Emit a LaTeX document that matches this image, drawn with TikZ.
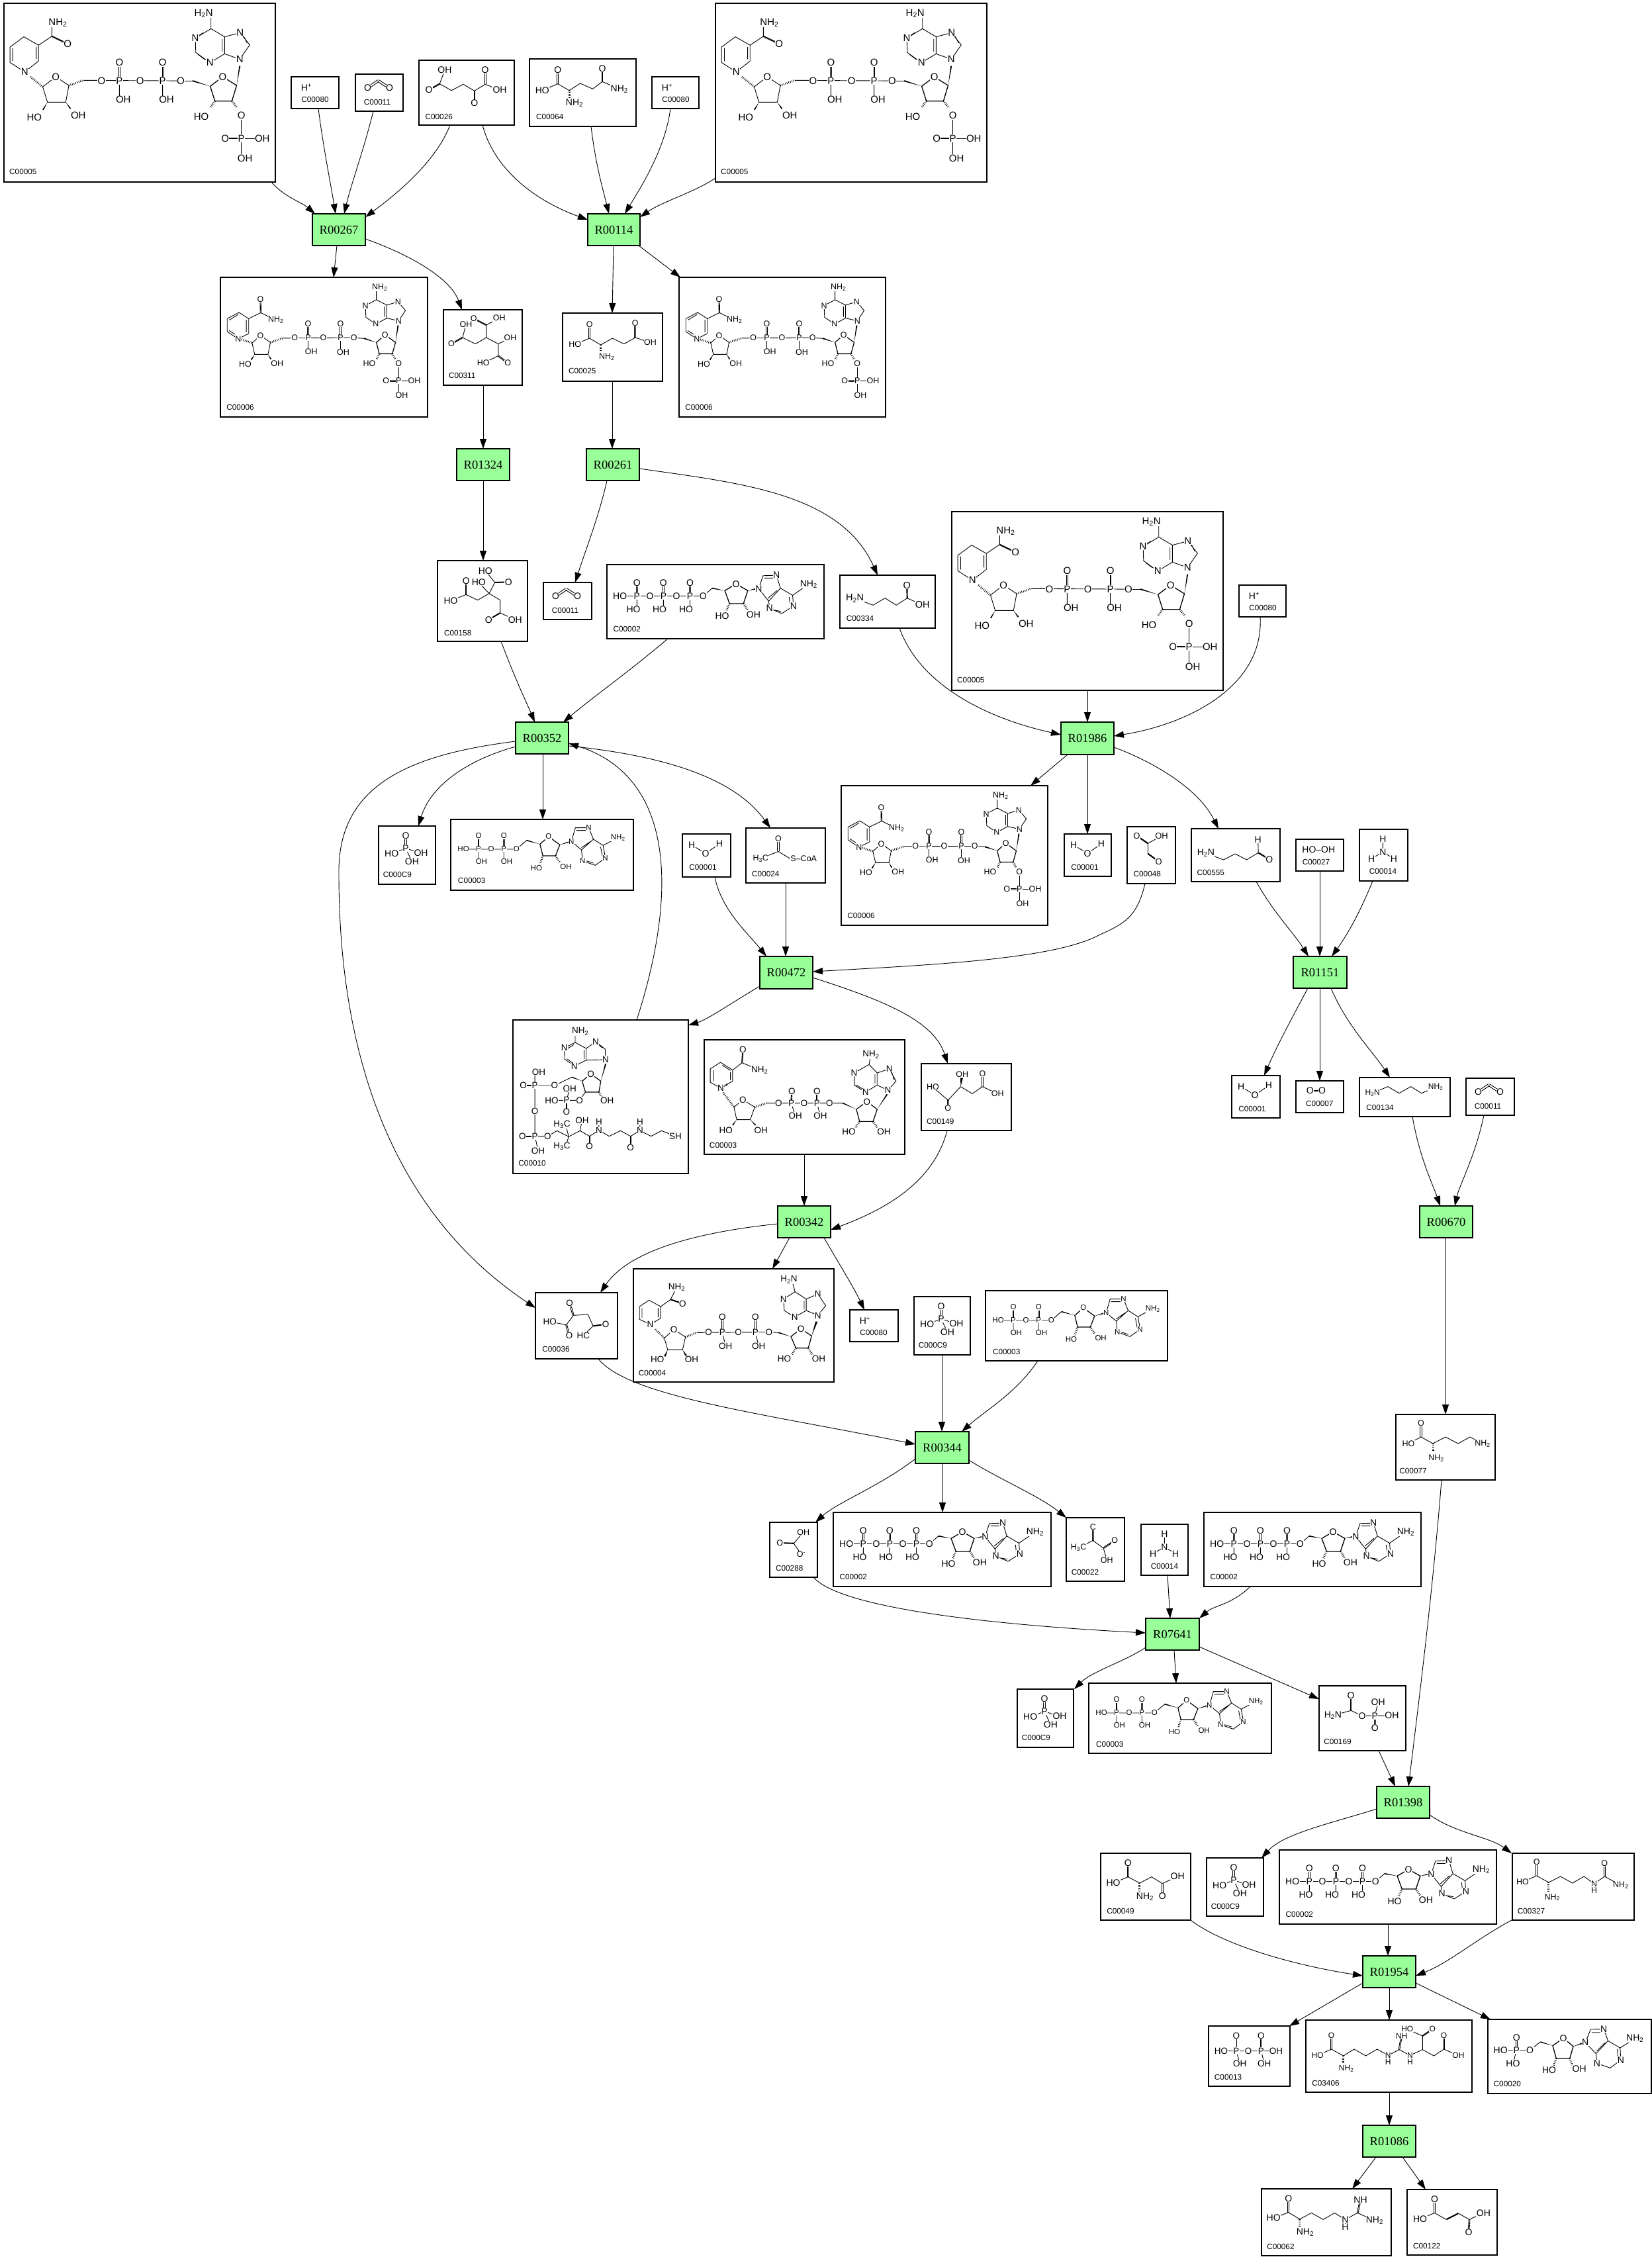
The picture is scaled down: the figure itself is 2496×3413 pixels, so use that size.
\documentclass[tikz,border=0pt]{standalone}
\usepackage{fontspec}
\setmainfont{Liberation Sans}
\newfontfamily\rxfont{Liberation Serif}
\usetikzlibrary{calc,arrows.meta}
\newcount\atomno
\def\molfs{14}
\tikzset{
 cbox/.style={draw=black,fill=white,line width=1.25pt,inner sep=0pt,outer sep=0pt},
 rbox/.style={draw=black,fill=rxgreen,line width=1.25pt,inner sep=0pt,outer sep=0pt,font=\rxfont\fontsize{18.5}{18.5}\selectfont},
 bond/.style={line width=0.9pt,draw=black},
 hash/.style={line width=3pt,draw=black,dash pattern=on 0.8pt off 1.8pt},
 atom/.style={fill=white,inner sep=0.5pt,outer sep=0pt,font=\fontsize{\molfs}{\molfs}\selectfont},
 lab/.style={inner sep=0pt,outer sep=0pt,font=\fontsize{11.8}{12}\selectfont},
 edge/.style={line width=0.9pt,draw=black,-{Triangle[length=15pt,width=10pt]}},
 zm/.style n args={4}{shift={(#1,#2)},xscale=1/#3,yscale=1/#4}
}
\definecolor{rxgreen}{RGB}{153,255,153}
\newcommand\Cp[5]{\pgfmathsetmacro\bxw{#4-#2}\pgfmathsetmacro\bxh{#5-#3}\pgfmathsetmacro\bxx{(#2+#4)/2}\pgfmathsetmacro\bxy{(#3+#5)/2}\node[cbox,minimum width=\bxw pt,minimum height=\bxh pt] (#1) at (\bxx,\bxy) {};}
\newcommand\Rx[6]{\pgfmathsetmacro\bxw{#4-#2}\pgfmathsetmacro\bxh{#5-#3}\pgfmathsetmacro\bxx{(#2+#4)/2}\pgfmathsetmacro\bxy{(#3+#5)/2}\node[rbox,minimum width=\bxw pt,minimum height=\bxh pt] (#1) at (\bxx,\bxy) {#6};}
\def\A(#1)#2{\global\advance\atomno 1 \node[atom] (at\the\atomno) at (#1) {#2};}
\def\Lb(#1)#2{\global\advance\atomno 1 \node[lab] (at\the\atomno) at (#1) {#2};}
\def\Db(#1)(#2){\draw[bond] ($(#1)!1.6pt!90:(#2)$)--($(#2)!1.6pt!-90:(#1)$) ($(#1)!1.6pt!-90:(#2)$)--($(#2)!1.6pt!90:(#1)$);}
\def\Hs(#1)(#2){\draw[hash] (#1)--(#2);}
\def\Wg(#1)(#2){\fill[black] (#1)--($(#2)!2.6pt!90:(#1)$)--($(#2)!2.6pt!-90:(#1)$)--cycle;}
\def\Nn{NH\textsubscript{2}}
\def\Hn{H\textsubscript{2}N}
% C00005
\newcommand\mNADPH[2]{\begin{scope}[shift={(#1,#2)},xscale=1/2.529,yscale=1/2.45,shift={(-449,-33)}]\def\molfs{15}
\draw[bond] (525,157)--(581,188)--(581,247)--(528,287)--(472,252)--(472,195)--cycle;
\draw[bond] (483,200)--(483,247) (572,195)--(572,240) (581,188)--(632,155)--(632,105) (697,337)--(647,305)--(597,342)--(615,399)--(685,399)--cycle;
\Db(632,155)(692,183)
\Hs(550,305)(597,342) \Hs(697,337)(752,318)
\draw[bond] (752,318)--(1124,320) (890,320)--(890,385) (1055,320)--(1055,385);
\Db(890,320)(890,253) \Db(1055,320)(1055,253)
\draw[bond] (1124,320)--(1170,320);
\Wg(1237,340)(1170,320)
\draw[line width=1.3pt] (1237,340)--(1255,395)--(1320,395)--(1338,337)--(1285,305)--cycle;
\Wg(1338,337)(1350,265)
\draw[bond] (1240,127)--(1180,162)--(1182,215)--(1236,253)--(1292,220)--(1292,157)--cycle (1292,157)--(1351,142)--(1388,187)--(1350,240)--(1292,220) (1240,127)--(1240,70);
\draw[bond] (1283,165)--(1283,212) (1210,142)--(1190,155) (1190,222)--(1215,240) (1365,155)--(1378,180);
\Wg(615,399)(598,427) \Wg(685,399)(703,423)
\Hs(1255,395)(1238,417) \Hs(1320,395)(1338,417)
\draw[bond] (1356,449)--(1356,607) (1356,533)--(1436,533);
\Db(1294,533)(1356,533)
\A(528,287){N}\A(655,105){\Nn}\A(692,183){O}\A(647,305){O}\A(822,320){O}\A(890,320){P}\A(969,320){O}\A(1055,320){P}\A(1124,320){O}
\A(890,253){O}\A(1055,253){O}\A(905,390){OH}\A(1070,390){OH}\A(1285,305){O}\A(1212,70){\Hn}\A(1180,162){N}\A(1236,253){N}\A(1351,142){N}\A(1350,240){N}
\A(565,455){HO}\A(733,448){OH}\A(1203,452){HO}\A(1356,449){O}\A(1356,533){P}\A(1294,533){O}\A(1436,533){OH}\A(1370,607){OH}
\Lb(522,656){C00005}
\end{scope}}
% C00006
\newcommand\mNADPp[2]{\begin{scope}[shift={(#1,#2)},xscale=1/2.529,yscale=1/2.45,shift={(-29,-1047)}]\def\molfs{12.5}
\draw[bond] (100,1177)--(137,1200)--(137,1255)--(97,1275)--(55,1248)--(55,1200)--cycle (63,1205)--(97,1185) (128,1205)--(128,1250) (62,1244)--(85,1258);
\draw[bond] (137,1200)--(183,1178)--(241,1205);
\Db(183,1178)(182,1129)
\Hs(110,1277)(150,1290) \Hs(220,1288)(268,1272)
\draw[bond] (150,1290)--(182,1262)--(220,1288)--(211,1332)--(160,1332)--cycle;
\draw[bond] (268,1272)--(539,1271) (364,1271)--(364,1322) (488,1271)--(488,1324);
\Db(364,1271)(364,1219) \Db(488,1271)(488,1219)
\draw[bond] (539,1271)--(578,1273);
\Wg(625,1288)(578,1273)
\draw[line width=1.2pt] (625,1288)--(636,1330)--(686,1330)--(698,1288)--(658,1260)--cycle;
\Wg(698,1288)(708,1225)
\draw[bond] (625,1130)--(583,1152)--(585,1195)--(623,1220)--(665,1198)--(665,1150)--cycle (665,1150)--(708,1137)--(736,1170)--(710,1208)--(665,1198) (625,1130)--(625,1090) (657,1155)--(657,1193);
\Wg(160,1332)(147,1352) \Wg(211,1332)(222,1350)
\Hs(636,1330)(625,1352) \Hs(686,1330)(698,1352)
\draw[bond] (710,1367)--(710,1483) (710,1430)--(770,1430);
\Db(662,1430)(710,1430)
\A(97,1275){N}\A(182,1129){O}\A(241,1205){\Nn}\A(182,1262){O}\A(313,1271){O}\A(364,1271){P}\A(422,1271){O}\A(488,1271){P}\A(539,1271){O}
\A(364,1219){O}\A(488,1219){O}\A(376,1322){OH}\A(498,1324){OH}\A(658,1260){O}\A(638,1085){\Nn}\A(583,1152){N}\A(623,1220){N}\A(708,1137){N}\A(710,1208){N}
\A(124,1368){HO}\A(246,1366){OH}\A(598,1366){HO}\A(710,1367){O}\A(710,1430){P}\A(662,1430){O}\A(770,1430){OH}\A(722,1483){OH}
\Lb(105,1528){C00006}
\end{scope}}
% C00002
\newcommand\mATP[2]{\begin{scope}[shift={(#1,#2)},xscale=1/1.522,yscale=1/2.8,shift={(-166,-435)}]\def\molfs{14}
\draw[bond] (196,568)--(387,568)--(408,535) (235,568)--(235,625) (296,568)--(296,625) (357,568)--(357,625);
\Db(235,568)(235,513)\Db(296,568)(296,513)\Db(357,568)(357,513)
\Wg(437,545)(408,535)
\draw[line width=1.3pt] (437,545)--(448,600)--(480,600)--(490,545)--(463,517)--cycle;
\Wg(490,545)(510,537)
\draw[bond] (515,537)--(525,482)--(556,480)--(565,535)--(538,590)--cycle (565,535)--(593,565)--(595,610)--(568,642)--(540,620)--(538,590) (593,565)--(630,518) (528,492)--(548,492) (557,545)--(536,578) (585,572)--(587,605) (552,628)--(566,633);
\Hs(448,600)(440,632) \Hs(480,600)(490,628)
\A(196,568){HO}\A(235,568){P}\A(265,568){O}\A(296,568){P}\A(326,568){O}\A(357,568){P}\A(387,568){O}\A(235,513){O}\A(296,513){O}\A(357,513){O}\A(227,625){HO}\A(287,625){HO}\A(348,625){HO}
\A(463,517){O}\A(515,537){N}\A(556,480){N}\A(595,610){N}\A(540,620){N}\A(630,518){\Nn}\A(431,652){HO}\A(503,648){OH}
\Lb(212,708){C00002}
\end{scope}}
% C00003 as ADP
\newcommand\mADP[2]{\begin{scope}[shift={(#1,#2)},xscale=1/1.832,yscale=1/3,shift={(-10,-190)}]\def\molfs{11.5}
\draw[bond] (45,325)--(192,325)--(220,285) (87,325)--(87,380) (157,325)--(157,380);
\Db(87,325)(87,265)\Db(157,325)(157,265)
\Wg(257,302)(220,285)
\draw[line width=1.2pt] (257,302)--(265,355)--(300,355)--(312,305)--(281,268)--cycle;
\Wg(312,305)(338,292)
\draw[bond] (344,290)--(355,228)--(392,228)--(405,280)--(372,328)--cycle (405,280)--(432,308)--(438,365)--(410,398)--(375,378)--(372,328) (432,308)--(473,272) (358,240)--(385,240) (397,290)--(372,318) (425,315)--(430,358) (386,378)--(405,388);
\Hs(265,355)(257,392) \Hs(300,355)(312,385)
\A(45,325){HO}\A(87,325){P}\A(122,325){O}\A(157,325){P}\A(192,325){O}\A(87,265){O}\A(157,265){O}\A(95,380){OH}\A(165,380){OH}
\A(281,268){O}\A(344,290){N}\A(392,228){N}\A(438,365){N}\A(375,378){N}\A(473,272){\Nn}\A(247,412){HO}\A(329,404){OH}
\Lb(68,468){C00003}
\end{scope}}
\newcommand\mCOO[2]{\begin{scope}[shift={(#1,#2)}]\def\molfs{14}
\Db(18.5,21)(34.5,10)\Db(34.5,10)(51.5,21)
\A(18.5,21){O}\A(51.5,21){O}\Lb(33,42){C00011}\end{scope}}
\newcommand\mHp[2]{\begin{scope}[shift={(#1,#2)}]\def\molfs{14}
\A(23,16){H\textsuperscript{+}}\Lb(36,34){C00080}\end{scope}}
\newcommand\mWat[2]{\begin{scope}[shift={(#1,#2)}]\def\molfs{14}
\draw[bond] (14.2,16.7)--(35,29.4)--(55.9,15);
\A(14.2,16.7){H}\A(35,29.4){O}\A(55.9,15){H}\Lb(31,50){C00001}\end{scope}}
\newcommand\mNH[2]{\begin{scope}[shift={(#1,#2)}]\def\molfs{14}
\draw[bond] (35.4,15)--(35.4,34.3)--(18.2,44.3) (35.4,34.3)--(52,44.3);
\A(35.4,15){H}\A(35.4,34.3){N}\A(18.2,44.3){H}\A(52,44.3){H}\Lb(35.4,63){C00014}\end{scope}}
\newcommand\mPi[2]{\begin{scope}[shift={(#1,#2)}]\def\molfs{14}
\Db(41,33.7)(41,14.3)
\draw[bond] (41,33.7)--(19.7,41.7) (41,33.7)--(64,41) (41,33.7)--(50.4,53.7);
\A(41,14.3){O}\A(41,33.7){P}\A(19.7,41.7){HO}\A(64,41){OH}\A(50.4,53.7){OH}\Lb(28.4,73.7){C000C9}\end{scope}}
\begin{document}
\begin{tikzpicture}[x=1pt,y=-1pt]
\useasboundingbox (0,0) rectangle (2496,3413);
\fill[white] (0,0) rectangle (2496,3413);
% reactions
\Rx{r267}{472}{323}{552}{371}{R00267}
\Rx{r114}{888}{323}{967}{371}{R00114}
\Rx{r1324}{690}{678}{770}{726}{R01324}
\Rx{r261}{886}{678}{966}{726}{R00261}
\Rx{r352}{779}{1091}{859}{1139}{R00352}
\Rx{r1986}{1603}{1091}{1683}{1140}{R01986}
\Rx{r472}{1148}{1445}{1228}{1494}{R00472}
\Rx{r1151}{1954}{1445}{2035}{1493}{R01151}
\Rx{r342}{1175}{1822}{1255}{1870}{R00342}
\Rx{r670}{2145}{1822}{2225}{1870}{R00670}
\Rx{r344}{1383}{2163}{1464}{2211}{R00344}
\Rx{r7641}{1731}{2445}{1812}{2493}{R07641}
\Rx{r1398}{2080}{2699}{2160}{2747}{R01398}
\Rx{r1954}{2059}{2955}{2139}{3003}{R01954}
\Rx{r1086}{2059}{3211}{2139}{3259}{R01086}
% compounds
\Cp{c5a}{6}{5}{416}{275}
\Cp{h1}{440}{116}{512}{164}
\Cp{co1}{537}{112}{609}{168}
\Cp{c26}{633}{91}{777}{189}
\Cp{c64}{800}{89}{961}{191}
\Cp{h2}{985}{116}{1056}{164}
\Cp{c5b}{1081}{5}{1491}{275}
\Cp{c6a}{333}{419}{646}{630}
\Cp{c311}{670}{468}{789}{582}
\Cp{c25}{850}{473}{1001}{576}
\Cp{c6b}{1026}{419}{1338}{630}
\Cp{c158}{661}{847}{797}{969}
\Cp{co2}{821}{880}{894}{936}
\Cp{atp1}{917}{853}{1245}{965}
\Cp{c334}{1269}{869}{1413}{949}
\Cp{c5c}{1438}{773}{1848}{1043}
\Cp{h3}{1872}{884}{1943}{932}
\Cp{c6c}{1271}{1187}{1583}{1398}
\Cp{w2}{1608}{1260}{1679}{1324}
\Cp{c48}{1703}{1249}{1776}{1335}
\Cp{c555}{1800}{1252}{1934}{1332}
\Cp{c27}{1958}{1268}{2030}{1316}
\Cp{nh1}{2054}{1253}{2127}{1331}
\Cp{w3}{1861}{1625}{1934}{1689}
\Cp{c7}{1958}{1633}{2030}{1681}
\Cp{c134}{2054}{1628}{2191}{1687}
\Cp{co3}{2215}{1629}{2288}{1685}
\Cp{pi1}{572}{1248}{658}{1336}
\Cp{adp1}{681}{1238}{957}{1345}
\Cp{w1}{1031}{1260}{1104}{1325}
\Cp{c24}{1127}{1251}{1247}{1334}
\Cp{c10}{775}{1541}{1040}{1773}
\Cp{nad}{1064}{1571}{1367}{1744}
\Cp{c149}{1392}{1607}{1528}{1708}
\Cp{c36}{809}{1953}{933}{2053}
\Cp{nadh}{957}{1917}{1260}{2088}
\Cp{h4}{1284}{1979}{1357}{2027}
\Cp{pi2}{1381}{1959}{1466}{2047}
\Cp{adp2}{1489}{1950}{1764}{2056}
\Cp{c288}{1163}{2300}{1235}{2383}
\Cp{atp2}{1259}{2285}{1588}{2397}
\Cp{c22}{1611}{2293}{1699}{2389}
\Cp{nh2}{1724}{2303}{1795}{2380}
\Cp{atp3}{1819}{2285}{2147}{2397}
\Cp{c77}{2109}{2137}{2259}{2236}
\Cp{pi3}{1537}{2552}{1622}{2640}
\Cp{adp3}{1645}{2543}{1921}{2649}
\Cp{c169}{1993}{2547}{2124}{2645}
\Cp{c49}{1663}{2800}{1799}{2901}
\Cp{pi4}{1823}{2807}{1909}{2895}
\Cp{atp4}{1933}{2795}{2261}{2907}
\Cp{c327}{2285}{2800}{2469}{2901}
\Cp{c13}{1826}{3061}{1949}{3152}
\Cp{c3406}{1973}{3052}{2224}{3161}
\Cp{c20}{2248}{3051}{2495}{3163}
\Cp{c62}{1906}{3307}{2102}{3408}
\Cp{c122}{2126}{3308}{2262}{3407}
% repeated molecules
\mNADPH{6}{5}\mNADPH{1081}{5}\mNADPH{1438}{773}
\mNADPp{333}{419}\mNADPp{1026}{419}\mNADPp{1271}{1187}
\mATP{917}{853}\mATP{1259}{2285}\mATP{1819}{2285}\mATP{1933}{2795}
\mADP{681}{1238}\mADP{1489}{1950}\mADP{1645}{2543}
\mCOO{537}{112}\mCOO{821}{880}\mCOO{2215}{1629}
\mHp{440}{116}\mHp{985}{116}\mHp{1872}{884}\mHp{1284}{1979}
\mWat{1031}{1260}\mWat{1608}{1260}\mWat{1861}{1625}
\mNH{2054}{1253}\mNH{1724}{2303}
\mPi{572}{1248}\mPi{1381}{1959}\mPi{1537}{2552}\mPi{1823}{2807}
% C00026
\begin{scope}[zm={0}{0}{1.96}{3}]\def\molfs{14}
\draw[bond] (1317,318)--(1302,380)--(1337,410)--(1372,382)--(1405,412)--(1437,382)--(1480,408);
\Db(1302,380)(1270,408)\Db(1437,382)(1437,318)\Db(1405,412)(1405,468)
\A(1317,318){OH}\A(1270,408){O}\A(1437,318){O}\A(1480,408){OH}\A(1405,468){O}\Lb(1300,528){C00026}
\end{scope}
% C00064
\begin{scope}[zm={600}{0}{1.742}{3}]\def\molfs{14}
\draw[bond] (382,410)--(423,380)--(453,410)--(482,378)--(515,403)--(540,370)--(585,403);
\Db(423,380)(423,318)\Db(540,370)(540,312)\Hs(453,410)(453,442)
\A(423,318){O}\A(382,410){HO}\A(467,467){\Nn}\A(540,312){O}\A(585,403){\Nn}\Lb(402,528){C00064}
\end{scope}
% C00311, C00025
\begin{scope}[zm={330}{410}{1.537}{2.9}]\def\molfs{12.5}
\draw[bond] (652,205)--(622,235)--(622,290)--(597,318)--(567,290)--(575,232) (622,290)--(650,318)--(678,290) (650,318)--(650,370)--(615,402);
\Db(622,235)(593,207)\Db(567,290)(541,318)\Db(650,370)(672,402)
\A(593,207){O}\A(652,205){OH}\A(575,232){OH}\A(541,318){O}\A(678,290){OH}\A(615,402){HO}\A(672,402){O}\Lb(566,457){C00311}
\draw[bond] (828,320)--(862,293)--(888,322)--(915,293)--(942,318)--(968,290)--(1003,312);
\Db(862,293)(862,233)\Db(968,290)(968,226)\Hs(888,322)(888,352)
\A(862,233){O}\A(828,320){HO}\A(902,375){\Nn}\A(968,226){O}\A(1003,312){OH}\Lb(845,437){C00025}
\end{scope}
% C00158
\begin{scope}[zm={640}{830}{3}{3}]\def\molfs{14}
\draw[bond] (280,97)--(323,150)--(297,200)--(245,230)--(193,205)--(123,232) (250,150)--(297,200)--(347,230)--(347,288)--(415,319);
\Db(323,150)(385,148)\Db(193,205)(193,142)\Db(347,288)(295,319)
\A(280,97){HO}\A(385,148){O}\A(250,150){HO}\A(193,142){O}\A(123,232){HO}\A(295,319){O}\A(415,319){OH}\Lb(155,378){C00158}
\end{scope}
% C00010 and C00003 (NAD)
\begin{scope}[zm={760}{1520}{2.45}{3}]\def\molfs{13.5}
\draw[bond] (267,165)--(227,190)--(228,240)--(264,272)--(308,245)--(308,192)--cycle (308,192)--(343,162)--(378,195)--(380,243)--(308,245) (267,165)--(267,115) (300,198)--(300,240) (236,195)--(262,175) (238,240)--(258,258) (350,170)--(368,190);
\Wg(362,340)(380,262)
\draw[line width=1.2pt] (362,340)--(325,308)--(293,340)--(305,390)--(355,390)--cycle;
\Wg(293,340)(255,322)
\draw[bond] (255,322)--(191,360)--(118,360)--(118,300) (118,360)--(118,590)--(165,590)--(200,565)--(243,592)--(285,565)--(320,590)--(355,563)--(393,590)--(435,565)--(472,590)--(507,565)--(548,590)--(587,565)--(638,590) (243,592)--(232,537) (243,592)--(232,635) (285,565)--(293,517) (118,590)--(130,655) (355,563)--(355,525) (507,565)--(507,525);
\Db(118,360)(75,360)\Db(118,590)(72,590)\Db(320,590)(320,637)\Db(472,590)(472,640)
\draw[bond] (305,390)--(283,427)--(180,427) (235,427)--(247,375);
\Db(235,427)(235,480)
\Hs(355,390)(365,412)
\A(286,115){\Nn}\A(227,190){N}\A(264,272){N}\A(343,162){N}\A(380,243){N}\A(325,308){O}\A(191,360){O}\A(132,300){OH}\A(118,360){P}\A(75,360){O}\A(118,475){O}\A(118,590){P}\A(72,590){O}\A(165,590){O}\A(130,655){OH}
\A(283,427){O}\A(235,427){P}\A(180,427){HO}\A(247,375){OH}\A(235,480){O}\A(385,427){OH}
\A(218,537){H\textsubscript{3}C}\A(218,635){H\textsubscript{3}C}\A(293,517){OH}\A(320,637){O}\A(355,563){N}\A(355,525){H}\A(472,640){O}\A(507,565){N}\A(507,525){H}\A(638,590){SH}
\Lb(108,713){C00010}
% NAD+
\draw[bond] (805,255)--(850,290)--(850,340)--(806,373)--(767,345)--(767,285)--cycle (778,290)--(778,340) (812,268)--(842,292) (842,300)--(842,335) (850,290)--(885,257)--(950,290);
\Db(885,257)(888,198)
\Hs(815,392)(855,458)
\draw[bond] (855,458)--(888,425)--(932,458)--(915,515)--(865,515)--cycle;
\Hs(932,458)(975,440)
\draw[bond] (975,440)--(1209,440)--(1258,440) (1067,440)--(1082,497) (1162,440)--(1175,497);
\Db(1067,440)(1069,385)\Db(1162,440)(1162,385)
\Wg(1308,468)(1258,440)
\draw[line width=1.2pt] (1308,468)--(1320,523)--(1370,523)--(1385,468)--(1347,433)--cycle;
\Wg(1385,468)(1422,400)
\draw[bond] (1355,265)--(1300,303)--(1300,358)--(1342,390)--(1385,358)--(1385,303)--cycle (1385,303)--(1430,285)--(1455,340)--(1425,382)--(1385,358) (1355,265)--(1362,220) (1377,308)--(1377,352) (1308,358)--(1335,378) (1438,295)--(1448,335);
\Wg(865,515)(850,540)\Wg(915,515)(935,540)
\Hs(1320,523)(1305,550)\Hs(1370,523)(1385,550)
\A(806,373){N}\Lb(827,360){\fontsize{9}{9}\selectfont +}\A(888,198){O}\A(950,290){\Nn}\A(888,425){O}\A(1020,440){O}\A(1067,440){P}\A(1115,440){O}\A(1162,440){P}\A(1209,440){O}\A(1069,385){O}\A(1162,385){O}\A(1082,497){OH}\A(1175,497){OH}
\A(1347,433){O}\A(1362,220){\Nn}\A(1300,303){N}\A(1342,390){N}\A(1430,285){N}\A(1425,382){N}\A(825,563){HO}\A(955,563){OH}\A(1280,570){HO}\A(1410,568){OH}
\Lb(815,630){C00003}
\end{scope}
% C00024 and C00149
\begin{scope}[zm={560}{1240}{1.3067}{2.8}]\def\molfs{12.5}
\draw[bond] (770,160)--(805,130)--(828,160)--(845,160);
\Db(805,130)(805,76)
\A(805,76){O}\A(770,160){H\textsubscript{3}C}\A(855,160){S--CoA}\Lb(780,225){C00024}
\draw[bond] (1110,1127)--(1140,1182)--(1165,1125)--(1188,1155)--(1208,1125)--(1238,1155);
\Db(1140,1182)(1140,1215)\Db(1208,1125)(1208,1070)
\Wg(1165,1125)(1167,1088)
\A(1110,1127){HO}\A(1140,1215){O}\A(1168,1072){OH}\A(1208,1070){O}\A(1238,1155){OH}\Lb(1125,1272){C00149}
\end{scope}
% C00004 and C00036
\begin{scope}[zm={790}{1900}{1.6}{3}]\def\molfs{13.5}
\draw[bond] (305,193)--(333,222)--(333,275)--(308,303)--(282,280)--(282,222)--cycle (288,228)--(288,275) (327,228)--(327,270) (333,222)--(357,190)--(372,135);
\Db(357,190)(386,208)
\Hs(320,325)(342,365)
\draw[bond] (342,365)--(365,325)--(393,360)--(386,418)--(350,418)--cycle;
\Hs(393,360)(420,340)
\draw[bond] (420,340)--(595,338)--(618,340) (482,338)--(490,400) (562,338)--(570,402);
\Db(482,338)(482,270)\Db(562,338)(562,270)
\Wg(648,358)(618,340)
\draw[line width=1.2pt] (648,358)--(660,410)--(690,410)--(698,355)--(672,323)--cycle;
\Wg(698,355)(710,290)
\draw[bond] (658,155)--(630,188)--(632,240)--(657,270)--(685,240)--(685,188)--cycle (685,188)--(713,165)--(732,218)--(713,262)--(685,240) (658,155)--(650,100) (680,195)--(680,235);
\Wg(350,418)(343,448)\Wg(386,418)(395,445)
\Hs(660,410)(650,440)\Hs(690,410)(700,440)
\A(308,303){N}\A(372,135){\Nn}\A(386,208){O}\A(365,325){O}\A(449,338){O}\A(482,338){P}\A(521,338){O}\A(562,338){P}\A(595,338){O}\A(482,270){O}\A(562,270){O}\A(490,400){OH}\A(570,402){OH}
\A(672,323){O}\A(643,100){\Hn}\A(630,188){N}\A(657,270){N}\A(713,165){N}\A(713,262){N}\A(325,462){HO}\A(408,460){OH}\A(632,457){HO}\A(715,457){OH}
\Lb(313,523){C00004}
\draw[bond] (65,290)--(105,305)--(122,262)--(157,258)--(170,310)--(146,353);
\Db(122,262)(113,205)\Db(105,305)(112,353)\Db(170,310)(200,302)
\A(113,205){O}\A(65,290){HO}\A(112,353){O}\A(200,302){O}\A(146,353){HC}\Lb(80,415){C00036}
\end{scope}
% C00288, C00022
\begin{scope}[zm={1150}{2130}{1.522}{2.8}]\def\molfs{12.5}
\draw[bond] (97,518)--(75,565)--(92,612);
\Db(43,563)(75,565)
\A(97,518){OH}\A(43,563){O}\A(92,612){O\textsuperscript{-}}\Lb(65,670){C00288}
\draw[bond] (730,583)--(763,553)--(787,585)--(795,635);
\Db(763,553)(763,497)\Db(787,585)(813,553)
\A(763,497){C}\A(730,583){H\textsubscript{3}C}\A(813,553){O}\A(795,635){OH}\Lb(745,687){C00022}
\end{scope}
% C00077 (full pixels)
\begin{scope}\def\molfs{12.5}
\draw[bond] (2128,2181)--(2147,2171)--(2165,2181)--(2184,2171)--(2203,2181)--(2221,2171)--(2240,2181);
\Db(2147,2171)(2147,2150)\Hs(2165,2181)(2165,2192)
\A(2147,2150){O}\A(2128,2181){HO}\A(2170,2203){\Nn}\A(2240,2181){\Nn}\Lb(2135,2222){C00077}
\end{scope}
% zoom 8 group
\begin{scope}[zm={1260}{760}{2.529}{2.45}]\def\molfs{14.5}
\draw[bond] (80,353)--(150,378)--(195,352)--(238,378)--(280,352)--(338,377);
\Db(280,352)(279,304)
\A(80,353){\Hn}\A(279,304){O}\A(338,377){OH}\Lb(100,427){C00334}
\def\molfs{13}
\draw[bond] (1252,1232)--(1200,1260)--(1200,1298);
\Db(1157,1232)(1200,1260)\Db(1200,1298)(1241,1327)
\A(1157,1232){O}\A(1252,1232){OH}\A(1241,1327){O}\Lb(1197,1372){C00048}
\end{scope}
% zoom 11 group
\begin{scope}[zm={1660}{1230}{1.866}{3}]\def\molfs{14}
\draw[bond] (302,177)--(352,207)--(385,180)--(417,207)--(450,175)--(449,115);
\Db(450,175)(481,205)
\A(302,177){\Hn}\A(449,115){H}\A(481,205){O}\Lb(316,265){C00555}
\A(620,160){HO--OH}\Lb(613,217){C00027}
\Db(596,1254)(630,1254)
\A(596,1254){O}\A(630,1254){O}\Lb(623,1312){C00007}
\def\molfs{12}
\draw[bond] (772,1265)--(815,1235)--(847,1265)--(880,1235)--(910,1265)--(950,1238);
\A(772,1265){\Hn}\A(950,1238){\Nn}\Lb(793,1330){C00134}
\end{scope}
% zoom 12 group
\begin{scope}[zm={1640}{2480}{1.832}{3}]\def\molfs{14}
\draw[bond] (685,335)--(735,313)--(766,337)--(848,337) (801,337)--(810,276);
\Db(735,313)(735,245)\Db(801,337)(801,392)
\A(685,335){\Hn}\A(735,245){O}\A(766,337){O}\A(801,337){P}\A(810,276){OH}\A(848,335){OH}\A(801,392){O}\Lb(698,455){C00169}
\draw[bond] (77,1095)--(118,1067)--(150,1095)--(183,1067)--(213,1097)--(255,1065);
\Db(118,1067)(118,1005)\Db(213,1097)(213,1155)\Hs(150,1095)(150,1135)
\A(118,1005){O}\A(77,1095){HO}\A(165,1158){\Nn}\A(255,1065){OH}\A(213,1155){O}\Lb(97,1222){C00049}
\def\molfs{12.5}
\draw[bond] (1210,1090)--(1249,1062)--(1282,1092)--(1315,1065)--(1348,1095)--(1380,1065)--(1408,1098)--(1437,1065)--(1482,1105) (1408,1098)--(1408,1130);
\Db(1249,1062)(1249,1000)\Db(1437,1065)(1437,1005)\Hs(1282,1092)(1282,1135)
\A(1249,1000){O}\A(1210,1090){HO}\A(1292,1160){\Nn}\A(1408,1098){N}\A(1408,1130){H}\A(1437,1005){O}\A(1482,1105){\Nn}\Lb(1234,1222){C00327}
\end{scope}
% zoom 6 group
\begin{scope}[zm={1660}{3000}{1.866}{3}]\def\molfs{13.5}
\draw[bond] (345,296)--(500,296) (388,296)--(398,353) (458,296)--(467,353);
\draw[bond] (388,296)--(388,228);
\Db(458,296)(458,228)
\A(388,228){O}\A(388,295){P}\A(345,296){HO}\A(422,296){O}\A(458,295){P}\A(458,228){O}\A(500,296){OH}\A(398,353){OH}\A(467,353){OH}\Lb(365,414){C00013}
\def\molfs{12}
\draw[bond] (617,316)--(656,288)--(690,318)--(720,288)--(753,318)--(785,288)--(816,316)--(847,290)--(878,316)--(913,290)--(945,318)--(973,288)--(1014,316) (816,316)--(816,345) (878,316)--(878,345) (913,290)--(913,228)--(870,197);
\Db(656,288)(656,227)\Db(847,290)(854,228)\Db(973,288)(973,227)\Db(913,228)(941,197)\Hs(690,318)(690,352)
\A(656,227){O}\A(617,316){HO}\A(698,377){\Nn}\A(816,316){N}\A(816,345){H}\A(854,228){NH}\A(878,316){N}\A(878,345){H}\A(870,197){HO}\A(941,197){O}\A(973,227){O}\A(1014,316){OH}\Lb(640,441){C03406}
% AMP
\def\molfs{14}
\draw[bond] (1133,293)--(1216,293)--(1245,255) (1178,293)--(1168,353);
\Db(1178,293)(1178,235)
\Wg(1280,272)(1245,255)
\draw[line width=1.3pt] (1280,272)--(1290,330)--(1328,330)--(1338,275)--(1310,238)--cycle;
\Wg(1338,275)(1362,262)
\draw[bond] (1372,258)--(1387,198)--(1424,197)--(1436,250)--(1402,308)--cycle (1436,250)--(1470,282)--(1472,337)--(1442,373)--(1405,352)--(1402,308) (1470,282)--(1512,240) (1390,212)--(1415,212) (1428,258)--(1404,296) (1462,288)--(1464,332);
\Hs(1290,330)(1282,365)\Hs(1328,330)(1335,360)
\A(1133,293){HO}\A(1178,293){P}\A(1216,293){O}\A(1178,235){O}\A(1168,353){HO}\A(1310,238){O}\A(1372,258){N}\A(1424,197){N}\A(1472,337){N}\A(1405,352){N}\A(1512,240){\Nn}\A(1270,384){HO}\A(1355,378){OH}\Lb(1152,444){C00020}
% C00062
\draw[bond] (493,1053)--(535,1028)--(567,1058)--(600,1030)--(633,1060)--(665,1030)--(695,1060)--(730,1030)--(778,1065) (695,1060)--(695,1095);
\Db(535,1028)(535,966)\Db(730,1030)(738,970)\Hs(567,1058)(567,1095)
\A(535,966){O}\A(493,1053){HO}\A(582,1118){\Nn}\A(695,1060){N}\A(695,1095){H}\A(738,970){NH}\A(778,1065){\Nn}\Lb(513,1182){C00062}
% C00122
\draw[bond] (906,1058)--(947,1030)--(980,1060) (1014,1032)--(1045,1060)--(1085,1030);
\Db(947,1030)(947,968)\Db(980,1060)(1014,1032)\Db(1045,1060)(1043,1118)
\A(947,968){O}\A(906,1058){HO}\A(1085,1030){OH}\A(1043,1118){O}\Lb(925,1180){C00122}
\end{scope}
% ---- edges ----
\draw[edge] (410,0|-c5a.south) .. controls (430,298) and (455,305) .. (476,0|-r267.north);
\draw[edge] (481,0|-h1.south) .. controls (488,220) and (500,280) .. (507,0|-r267.north);
\draw[edge] (564,0|-co1.south) .. controls (550,225) and (530,280) .. (520,0|-r267.north);
\draw[edge] (680,0|-c26.south) .. controls (660,240) and (610,285) .. (r267.east|-0,328);
\draw[edge] (729,0|-c26.south) .. controls (745,250) and (800,300) .. (r114.west|-0,332);
\draw[edge] (893,0|-c64.south) .. controls (900,250) and (912,290) .. (920,0|-r114.north);
\draw[edge] (1013,0|-h2.south) .. controls (1005,225) and (970,280) .. (944,0|-r114.north);
\draw[edge] (c5b.west|-0,269) .. controls (1050,290) and (1000,305) .. (r114.east|-0,328);
\draw[edge] (509,0|-r267.south) -- (504,0|-c6a.north);
\draw[edge] (r267.east|-0,361) .. controls (620,385) and (680,420) .. (698,0|-c311.north);
\draw[edge] (927,0|-r114.south) -- (925,0|-c25.north);
\draw[edge] (965,0|-r114.south) -- (1028,0|-c6b.north);
\draw[edge] (730,0|-c311.south) -- (730,0|-r1324.north);
\draw[edge] (925,0|-c25.south) -- (925,0|-r261.north);
\draw[edge] (730,0|-r1324.south) -- (730,0|-c158.north);
\draw[edge] (917,0|-r261.south) .. controls (905,780) and (885,830) .. (869,0|-co2.north);
\draw[edge] (r261.east|-0,708) .. controls (1120,730) and (1270,745) .. (1326,0|-c334.north);
\draw[edge] (757,0|-c158.south) .. controls (780,1030) and (795,1060) .. (808,0|-r352.north);
\draw[edge] (1009,0|-atp1.south) .. controls (950,1015) and (900,1050) .. (851,0|-r352.north);
\draw[edge] (1359,0|-c334.south) .. controls (1390,1035) and (1490,1085) .. (r1986.west|-0,1110);
\draw[edge] (1643,0|-c5c.south) -- (1643,0|-r1986.north);
\draw[edge] (1904,0|-h3.south) .. controls (1910,1040) and (1790,1095) .. (r1986.east|-0,1112);
\draw[edge] (1613,0|-r1986.south) -- (1557,0|-c6c.north);
\draw[edge] (1643,0|-r1986.south) -- (1643,0|-w2.north);
\draw[edge] (r1986.east|-0,1129) .. controls (1740,1150) and (1810,1190) .. (1841,0|-c555.north);
\draw[edge] (1730,0|-c48.south) .. controls (1718,1385) and (1700,1395) .. (1660,1413) .. controls (1590,1450) and (1400,1458) .. (r472.east|-0,1468);
\draw[edge] (1080,0|-w1.south) .. controls (1090,1375) and (1130,1410) .. (1158,0|-r472.north);
\draw[edge] (1187,0|-c24.south) -- (1187,0|-r472.north);
\draw[edge] (r472.west|-0,1490) .. controls (1110,1512) and (1070,1540) .. (c10.east|-0,1549);
\draw[edge] (r472.east|-0,1477) .. controls (1330,1510) and (1410,1540) .. (1432,0|-c149.north);
\draw[edge] (962,0|-c10.north) .. controls (1030,1330) and (1010,1170) .. (r352.east|-0,1123);
\draw[edge] (r352.east|-0,1127) .. controls (1040,1145) and (1120,1190) .. (1164,0|-c24.north);
\draw[edge] (r352.west|-0,1128) .. controls (700,1150) and (650,1190) .. (632,0|-pi1.north);
\draw[edge] (820,0|-r352.south) -- (820,0|-adp1.north);
\draw[edge] (r352.west|-0,1120) .. controls (620,1140) and (510,1185) .. (512,1320) .. controls (512,1500) and (545,1800) .. (c36.west|-0,1976);
\draw[edge] (1431,0|-c149.south) .. controls (1410,1790) and (1330,1830) .. (r342.east|-0,1858);
\draw[edge] (1215,0|-nad.south) -- (1215,0|-r342.north);
\draw[edge] (r342.west|-0,1849) .. controls (1050,1862) and (950,1890) .. (907,0|-c36.north);
\draw[edge] (1193,0|-r342.south) -- (1167,0|-nadh.north);
\draw[edge] (1245,0|-r342.south) .. controls (1265,1905) and (1290,1945) .. (1306,0|-h4.north);
\draw[edge] (904,0|-c36.south) .. controls (950,2110) and (1150,2135) .. (r344.west|-0,2182);
\draw[edge] (1423,0|-pi2.south) -- (1423,0|-r344.north);
\draw[edge] (1568,0|-adp2.south) .. controls (1535,2105) and (1490,2130) .. (1453,0|-r344.north);
\draw[edge] (r344.west|-0,2204) .. controls (1330,2245) and (1265,2270) .. (1232,0|-c288.north);
\draw[edge] (1424,0|-r344.south) -- (1424,0|-atp2.north);
\draw[edge] (r344.east|-0,2206) .. controls (1510,2235) and (1570,2260) .. (c22.north west);
\draw[edge] (1229,0|-c288.south) .. controls (1270,2430) and (1500,2455) .. (r7641.west|-0,2467);
\draw[edge] (1764,0|-nh2.south) -- (1768,0|-r7641.north);
\draw[edge] (1889,0|-atp3.south) .. controls (1860,2425) and (1835,2425) .. (r7641.north east);
\draw[edge] (r7641.west|-0,2489) .. controls (1700,2510) and (1650,2525) .. (1623,0|-pi3.north);
\draw[edge] (1774,0|-r7641.south) -- (1777,0|-adp3.north);
\draw[edge] (r7641.east|-0,2488) -- (c169.west|-0,2567);
\draw[edge] (2083,0|-c169.south) -- (2108,0|-r1398.north);
\draw[edge] (2178,0|-c77.south) .. controls (2165,2400) and (2145,2560) .. (2128,0|-r1398.north);
\draw[edge] (2184,0|-r670.south) -- (2184,0|-c77.north);
\draw[edge] (2134,0|-c134.south) .. controls (2145,1750) and (2165,1790) .. (2176,0|-r670.north);
\draw[edge] (2242,0|-co3.south) .. controls (2228,1750) and (2205,1790) .. (2198,0|-r670.north);
\draw[edge] (1898,0|-c555.south) .. controls (1925,1380) and (1955,1410) .. (1977,0|-r1151.north);
\draw[edge] (1994,0|-c27.south) -- (1994,0|-r1151.north);
\draw[edge] (2074,0|-nh1.south) .. controls (2050,1390) and (2030,1420) .. (2012,0|-r1151.north);
\draw[edge] (1976,0|-r1151.south) .. controls (1940,1560) and (1925,1590) .. (1910,0|-w3.north);
\draw[edge] (1994,0|-r1151.south) -- (1994,0|-c7.north);
\draw[edge] (2011,0|-r1151.south) .. controls (2035,1550) and (2075,1590) .. (2100,0|-c134.north);
\draw[edge] (r1398.west|-0,2733) .. controls (2010,2755) and (1940,2770) .. (1906,0|-pi4.north);
\draw[edge] (r1398.east|-0,2742) .. controls (2200,2770) and (2250,2775) .. (2284,0|-c327.north);
\draw[edge] (1799,0|-c49.south) .. controls (1850,2940) and (1960,2970) .. (r1954.west|-0,2985);
\draw[edge] (2097,0|-atp4.south) -- (2097,0|-r1954.north);
\draw[edge] (2284,0|-c327.south) .. controls (2230,2930) and (2190,2965) .. (r1954.east|-0,2985);
\draw[edge] (r1954.west|-0,2996) -- (1948,0|-c13.north);
\draw[edge] (2099,0|-r1954.south) -- (2099,0|-c3406.north);
\draw[edge] (r1954.east|-0,2996) -- (2252,0|-c20.north);
\draw[edge] (2099,0|-c3406.south) -- (2099,0|-r1086.north);
\draw[edge] (2079,0|-r1086.south) -- (2043,0|-c62.north);
\draw[edge] (2119,0|-r1086.south) -- (2154,0|-c122.north);
\end{tikzpicture}
\end{document}
